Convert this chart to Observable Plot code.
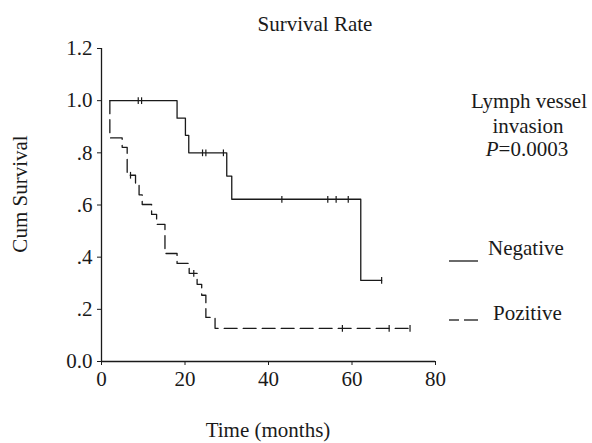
<!DOCTYPE html>
<html><head><meta charset="utf-8">
<script src="https://cdn.jsdelivr.net/npm/d3@7"></script>
<script src="https://cdn.jsdelivr.net/npm/@observablehq/plot@0.6"></script>
<style>html,body{margin:0;padding:0;background:#fff} svg{display:block}</style>
</head><body><div id="chart"></div>
<script>
// Negative group (solid): step points (time in months, cumulative survival)
const negTimes = [2, 18.1, 20.1, 20.9, 30.0, 31.2, 62.1, 67.1];
const negSurv  = [1.0, 0.933, 0.867, 0.800, 0.711, 0.622, 0.311, 0.311];
const negCensor = [8.8, 9.6, 24.2, 25.0, 29.2, 43.2, 54.2, 56.2, 59.1, 67.1];
// Positive group (dashed)
const posTimes = [2, 2, 4.95, 6.15, 8.15, 9.0, 9.75, 12.0, 13.2, 15.2, 18.1, 21.0, 22.9, 24.0, 25.0, 27.2, 74];
const posSurv  = [1.0, 0.857, 0.821, 0.714, 0.677, 0.639, 0.602, 0.564, 0.526, 0.414, 0.376, 0.338, 0.296, 0.254, 0.169, 0.127, 0.127];
const posCensor = [6.95, 22.1, 57.7, 68.9, 73.9];
// Axes
const xTicks = [0, 20, 40, 60, 80];
const yTicks = [0, 0.2, 0.4, 0.6, 0.8, 1.0, 1.2];
const yTickLabels = ["0.0", ".2", ".4", ".6", ".8", "1.0", "1.2"];
// Texts
const titleText = "Survival Rate";
const xLabel = "Time (months)";
const yLabel = "Cum Survival";
const annotLines = ["Lymph vessel", "invasion"];
const pLabel = "P";
const pValue = "=0.0003";
const seriesNames = ["Negative", "Pozitive"];

const toRows = (ts, ss) => ts.map((t, i) => ({t, s: ss[i]}));
const neg = toRows(negTimes, negSurv);
const pos = toRows(posTimes, posSurv);
function survAt(ts, ss, t) {
  let v = ss[0];
  for (let i = 0; i < ts.length; i++) if (ts[i] <= t + 1e-9) v = ss[i];
  return v;
}
const negC = negCensor.map(t => ({t, s: survAt(negTimes, negSurv, t)}));
const posC = posCensor.map(t => ({t, s: survAt(posTimes, posSurv, t)}));

const censorSymbol = {
  draw(context, size) {
    const h = Math.sqrt(size) / 2;
    context.moveTo(0, -h);
    context.lineTo(0, h);
  }
};

const ink = "#1a1a1a";
const font = "'Liberation Serif', 'Times New Roman', serif";

const chart = Plot.plot({
  width: 592,
  height: 443,
  marginLeft: 101,
  marginRight: 157,
  marginTop: 48,
  marginBottom: 82,
  style: {fontFamily: font, fontSize: "21px", color: ink, background: "#fff"},
  x: {domain: [0, 80], ticks: xTicks, tickSize: 4, tickPadding: 6, label: null},
  y: {domain: [0, 1.2], ticks: yTicks, tickSize: 4, tickPadding: 5, label: null,
      tickFormat: d => yTickLabels[yTicks.findIndex(v => Math.abs(v - d) < 1e-9)]},
  marks: [
    Plot.ruleX([0], {stroke: ink, strokeWidth: 1.3}),
    Plot.ruleY([0], {stroke: ink, strokeWidth: 1.3}),
    Plot.line(neg, {x: "t", y: "s", curve: "step-after", stroke: ink, strokeWidth: 1.3}),
    Plot.line(pos, {x: "t", y: "s", curve: "step-after", stroke: ink, strokeWidth: 1.3, strokeDasharray: "13,6"}),
    Plot.dot(negC, {x: "t", y: "s", symbol: censorSymbol, r: 3.8, stroke: ink, strokeWidth: 1.2}),
    Plot.dot(posC, {x: "t", y: "s", symbol: censorSymbol, r: 3.8, stroke: ink, strokeWidth: 1.2})
  ]
});
document.getElementById("chart").appendChild(chart);

const svg = d3.select(chart);
const g = svg.append("g").attr("font-family", font).attr("font-size", 21).attr("fill", ink).attr("text-anchor", "start");
g.append("text").attr("x", 315).attr("y", 31).attr("text-anchor", "middle").text(titleText);
g.append("text").attr("x", 268).attr("y", 437).attr("text-anchor", "middle").text(xLabel);
g.append("text").attr("transform", "translate(27,194) rotate(-90)").attr("text-anchor", "middle").text(yLabel);
g.append("text").attr("x", 529).attr("y", 108).attr("text-anchor", "middle").text(annotLines[0]);
g.append("text").attr("x", 528).attr("y", 133).attr("text-anchor", "middle").text(annotLines[1]);
const pt = g.append("text").attr("x", 527).attr("y", 156).attr("text-anchor", "middle");
pt.append("tspan").attr("font-style", "italic").text(pLabel);
pt.append("tspan").text(pValue);
// legend
g.append("line").attr("x1", 449).attr("x2", 478).attr("y1", 261).attr("y2", 261).attr("stroke", ink).attr("stroke-width", 1.3);
g.append("text").attr("x", 488).attr("y", 255).attr("text-anchor", "start").text(seriesNames[0]);
g.append("line").attr("x1", 449).attr("x2", 459).attr("y1", 320).attr("y2", 320).attr("stroke", ink).attr("stroke-width", 1.3);
g.append("line").attr("x1", 464).attr("x2", 478).attr("y1", 320).attr("y2", 320).attr("stroke", ink).attr("stroke-width", 1.3);
g.append("text").attr("x", 493).attr("y", 320).attr("text-anchor", "start").text(seriesNames[1]);
</script>
</body></html>
